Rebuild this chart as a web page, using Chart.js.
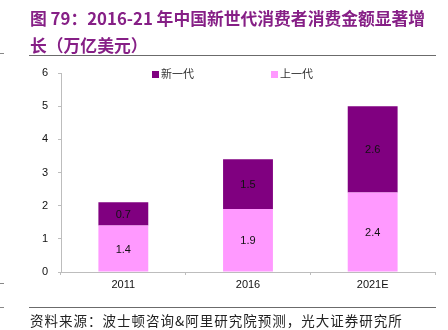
<!DOCTYPE html>
<html><head><meta charset="utf-8">
<script src="https://cdn.jsdelivr.net/npm/chart.js@4/dist/chart.umd.min.js"></script>
<style>
html,body{margin:0;padding:0;background:#fff;}
#wrap{position:relative;width:448px;height:330px;overflow:hidden;font-family:"Liberation Sans",Arial,sans-serif;}
#c{position:absolute;left:0;top:0;}
.t{position:absolute;left:30px;color:#861f86;font-family:"Noto Sans CJK SC",sans-serif;font-weight:bold;font-size:16.8px;white-space:nowrap;line-height:20px;}
.rule{position:absolute;left:29px;width:407px;height:1px;background:#6b6b6b;}
.dash{position:absolute;left:0;width:4px;height:1px;background:#888;}
#src{position:absolute;left:30px;top:311px;font-family:"Noto Sans CJK SC",sans-serif;font-size:13.5px;letter-spacing:1px;color:#222;white-space:nowrap;line-height:18px;}
.lg{position:absolute;top:65px;font-family:"Noto Sans CJK SC",sans-serif;font-size:11px;color:#333;white-space:nowrap;line-height:16px;}
.lg i{display:inline-block;width:7px;height:7px;margin-right:2px;vertical-align:0px;}
</style></head>
<body><div id="wrap">
<canvas id="c" width="448" height="330"></canvas>
<div class="t" style="top:8px">图 79：2016-21 年中国新世代消费者消费金额显著增</div>
<div class="t" style="top:35px">长（万亿美元）</div>
<div class="rule" style="top:55px"></div>
<div class="rule" style="top:307px"></div>
<div class="dash" style="top:53px"></div>
<div class="dash" style="top:283px"></div>
<div class="dash" style="top:307px"></div>
<div id="src">资料来源：波士顿咨询&amp;阿里研究院预测，光大证券研究所</div>
<div id="lg1" class="lg" style="left:152px"></div>
<div id="lg2" class="lg" style="left:271px"></div>
</div>
<script>
const categories = ["2011", "2016", "2021E"];
const seriesNames = ["上一代", "新一代"];
const prevGen = [1.4, 1.9, 2.4];
const newGen = [0.7, 1.5, 2.6];
const yTicks = [0, 1, 2, 3, 4, 5, 6];
const colors = ["#ff99ff", "#800080"];

document.getElementById('lg1').innerHTML = '<i style="background:'+colors[1]+'"></i>'+seriesNames[1];
document.getElementById('lg2').innerHTML = '<i style="background:'+colors[0]+'"></i>'+seriesNames[0];

const labelPlugin = {
  id: 'vals',
  afterDatasetsDraw(chart) {
    const ctx = chart.ctx;
    ctx.save();
    ctx.font = '11px "Liberation Sans", Arial, sans-serif';
    ctx.fillStyle = '#111';
    ctx.textAlign = 'center';
    ctx.textBaseline = 'middle';
    chart.data.datasets.forEach((ds, i) => {
      chart.getDatasetMeta(i).data.forEach((bar, j) => {
        const y = (bar.y + bar.base) / 2;
        ctx.fillText(ds.data[j].toFixed(1), bar.x, y + 1);
      });
    });
    ctx.restore();
  }
};

new Chart(document.getElementById('c'), {
  type: 'bar',
  data: {
    labels: categories,
    datasets: [
      { label: seriesNames[0], data: prevGen, backgroundColor: colors[0], barPercentage: 0.4, categoryPercentage: 1 },
      { label: seriesNames[1], data: newGen, backgroundColor: colors[1], barPercentage: 0.4, categoryPercentage: 1 }
    ]
  },
  options: {
    responsive: false,
    animation: false,
    devicePixelRatio: 1,
    layout: { padding: { left: 0, top: 73, right: 13, bottom: 38 } },
    plugins: { legend: { display: false }, tooltip: { enabled: false } },
    scales: {
      x: {
        stacked: true,
        afterFit(s) { s.height = 20; },
        border: { color: '#bdbdbd', width: 1 },
        grid: { display: true, drawOnChartArea: false, tickLength: 3, color: '#bdbdbd', offset: true },
        ticks: { color: '#111', font: { family: '"Liberation Sans", Arial', size: 11 }, padding: 3 }
      },
      y: {
        stacked: true,
        min: 0, max: 6,
        afterFit(s) { s.width = 61; },
        afterBuildTicks(s) { s.ticks = yTicks.map(v => ({ value: v })); },
        border: { color: '#bdbdbd', width: 1 },
        grid: { display: true, drawOnChartArea: false, tickLength: 3, color: '#bdbdbd' },
        ticks: { color: '#111', font: { family: '"Liberation Sans", Arial', size: 11 }, padding: 10 }
      }
    }
  },
  plugins: [labelPlugin]
});
</script>
</body></html>
